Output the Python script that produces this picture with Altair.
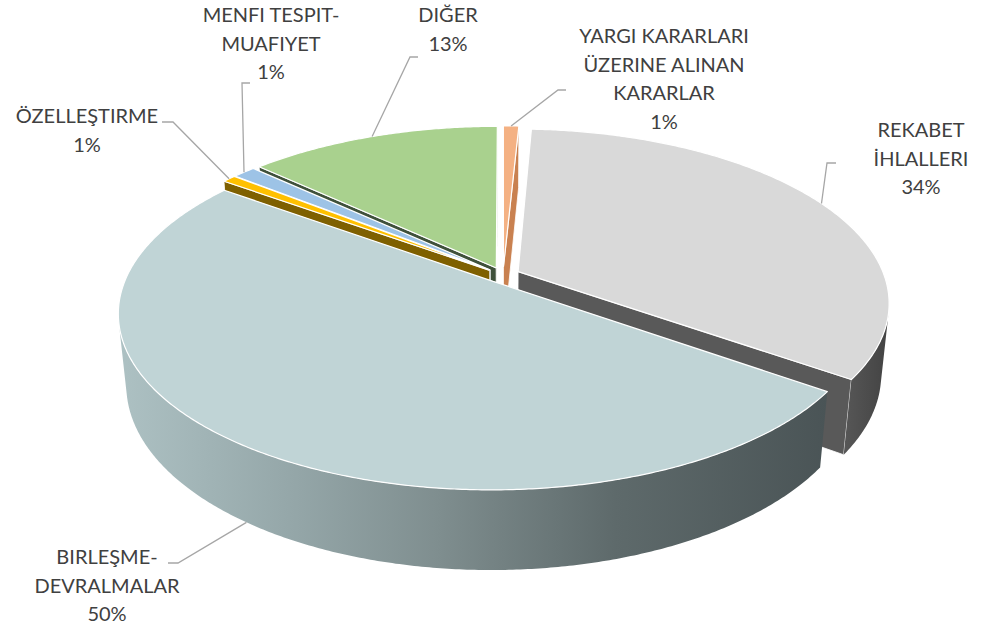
import math
import numpy as np
import pandas as pd
import altair as alt

# ---------------- data ----------------
categories = [
    "YARGI KARARLARI ÜZERINE ALINAN KARARLAR",
    "REKABET İHLALLERI",
    "BIRLEŞME-DEVRALMALAR",
    "ÖZELLEŞTIRME",
    "MENFI TESPIT-MUAFIYET",
    "DIĞER",
]
shares = [0.8, 34.0, 50.2, 0.7, 1.2, 13.1]
label_lines = [
    ["YARGI KARARLARI", "ÜZERINE ALINAN", "KARARLAR"],
    ["REKABET", "İHLALLERI"],
    ["BIRLEŞME-", "DEVRALMALAR"],
    ["ÖZELLEŞTIRME"],
    ["MENFI TESPIT-", "MUAFIYET"],
    ["DIĞER"],
]

# ---------------- style ----------------
top_colors = ["#F4B183", "#D9D9D9", "#C0D4D6", "#FFC000", "#9DC3E6", "#A9D18E"]
side_colors = ["#C98150", "#595959", "#6F7F80", "#7F6000", "#4E6273", "#3F513B"]
wall_stops = [
    [("#C98150", 0), ("#A8663C", 1)],
    [("#575757", 0), ("#434343", 1)],
    [("#ADC1C3", 0), ("#94A6A8", 0.25), ("#7F8E8F", 0.45), ("#5E6A6B", 0.7), ("#4A5456", 1)],
    [("#7F6000", 0), ("#6A5000", 1)],
    [("#4E6273", 0), ("#3E4F5D", 1)],
    [("#3F513B", 0), ("#33432F", 1)],
]

# ---------------- layout ----------------
W, H = 992, 630
CX, CY = 503, 275          # screen position of the pie centre
K = 366                     # screen radius at centre depth
DIST = 5.0                  # camera distance (in pie radii)
PHI = math.radians(27.5)    # camera elevation
DEPTH = 0.22                # pie thickness (in pie radii)
EXPLODE = 0.046             # slice explosion (in pie radii)
FONT = "Lato"
FONT_SIZE = 20
LINE_H = 28.5
TEXT_COLOR = "#404040"
LEADER_COLOR = "#A6A6A6"
# label box: centre x, first baseline-middle y, elbow point, end point of leader
label_layout = [
    (664, 37, (558, 90), (566, 90)),
    (921, 131, (827, 163), (836, 163)),
    (107, 558, (178, 563), (168, 563)),
    (87, 117, (173, 122), (162, 122)),
    (271, 16, (242, 83), (250, 83)),
    (448, 16, (410, 57), (418, 57)),
]

S, C = math.sin(PHI), math.cos(PHI)
KK = K * DIST


def proj(X, Y, Z):
    den = DIST + Z * C - Y * S
    return CX + KK * X / den, CY - KK * (Y * C + Z * S) / den


XENC = alt.X("x:Q", scale=alt.Scale(domain=[0, W], nice=False, zero=False), axis=None)
YENC = alt.Y("y:Q", scale=alt.Scale(domain=[H, 0], nice=False, zero=False), axis=None)


def poly_layer(pts, fill, stroke=None, sw=0.0):
    df = pd.DataFrame({"x": [p[0] for p in pts], "y": [p[1] for p in pts], "i": list(range(len(pts)))})
    kw = dict(filled=True, fill=fill, interpolate="linear", strokeJoin="round")
    if stroke is not None:
        kw.update(stroke=stroke, strokeWidth=sw)
    else:
        kw.update(strokeWidth=0)
    return alt.Chart(df).mark_line(**kw).encode(x=XENC, y=YENC, order="i:Q")


def gradient(stops):
    return alt.LinearGradient(
        gradient="linear",
        stops=[alt.GradientStop(color=c, offset=o) for c, o in stops],
        x1=0, x2=1, y1=0, y2=0,
    )


total = sum(shares)
bounds = np.concatenate([[0.0], np.cumsum(shares)]) / total * 360.0
n = len(shares)

slice_layers = {}
anchors = []
depth_key = []
for i in range(n):
    a0, a1 = math.radians(bounds[i]), math.radians(bounds[i + 1])
    am = 0.5 * (a0 + a1)
    ox, oz = EXPLODE * math.sin(am), EXPLODE * math.cos(am)
    nseg = max(4, int(math.degrees(a1 - a0) * 2) + 2)
    th = np.linspace(a0, a1, nseg)
    layers = []
    # radial start face
    if ox * math.cos(a0) + math.sin(a0) * (-DIST * C - oz) > 0:
        rx, rz = ox + math.sin(a0), oz + math.cos(a0)
        pts = [proj(ox, 0, oz), proj(rx, 0, rz), proj(rx, -DEPTH, rz), proj(ox, -DEPTH, oz)]
        pts.append(pts[0])
        layers.append(poly_layer(pts, side_colors[i], "white", 0.8))
    # radial end face
    if -ox * math.cos(a1) + math.sin(a1) * (DIST * C + oz) > 0:
        rx, rz = ox + math.sin(a1), oz + math.cos(a1)
        pts = [proj(ox, 0, oz), proj(rx, 0, rz), proj(rx, -DEPTH, rz), proj(ox, -DEPTH, oz)]
        pts.append(pts[0])
        layers.append(poly_layer(pts, side_colors[i], "white", 0.8))
    # outer wall (visible part)
    vis = [(-ox * math.sin(t) - oz * math.cos(t) - 1 - DIST * C * math.cos(t)) > 0 for t in th]
    vt = [t for t, v in zip(th, vis) if v]
    if len(vt) >= 2:
        topedge = [proj(ox + math.sin(t), 0, oz + math.cos(t)) for t in vt]
        botedge = [proj(ox + math.sin(t), -DEPTH, oz + math.cos(t)) for t in vt[::-1]]
        pts = topedge + botedge + [topedge[0]]
        layers.append(poly_layer(pts, gradient(wall_stops[i])))
    # top face
    pts = [proj(ox, 0, oz)] + [proj(ox + math.sin(t), 0, oz + math.cos(t)) for t in th]
    pts.append(pts[0])
    layers.append(poly_layer(pts, top_colors[i], "white", 1.2))
    slice_layers[i] = layers
    depth_key.append(math.cos(am))
    # leader anchor: wall bottom if the wall faces the viewer at mid angle, else top rim
    mid_vis = (-ox * math.sin(am) - oz * math.cos(am) - 1 - DIST * C * math.cos(am)) > 0
    yv = -DEPTH if mid_vis else 0.0
    anchors.append(proj(ox + math.sin(am), yv, oz + math.cos(am)))

order = sorted(range(n), key=lambda j: -depth_key[j])
all_layers = []
for j in order:
    all_layers.extend(slice_layers[j])

# leader lines
lead_rows = []
for i in range(n):
    _, _, elbow, end = label_layout[i]
    for k, p in enumerate([anchors[i], elbow, end]):
        lead_rows.append({"x": p[0], "y": p[1], "id": i, "i": k})
lead_df = pd.DataFrame(lead_rows)
leaders = alt.Chart(lead_df).mark_line(color=LEADER_COLOR, strokeWidth=1.3).encode(
    x=XENC, y=YENC, detail="id:N", order="i:Q"
)

# labels
txt_rows = []
for i in range(n):
    cx, y0, _, _ = label_layout[i]
    lines = label_lines[i] + [f"{round(shares[i] / total * 100)}%"]
    for k, line in enumerate(lines):
        txt_rows.append({"x": cx, "y": y0 + k * LINE_H, "t": line})
txt_df = pd.DataFrame(txt_rows)
texts = alt.Chart(txt_df).mark_text(
    font=FONT, fontSize=FONT_SIZE, color=TEXT_COLOR, align="center", baseline="middle"
).encode(x=XENC, y=YENC, text="t:N")

chart = alt.layer(*all_layers, leaders, texts).properties(
    width=W, height=H, autosize="none", padding=0
).configure_view(stroke=None)

chart.save("out.html", embed_options={"renderer": "svg", "actions": False})
